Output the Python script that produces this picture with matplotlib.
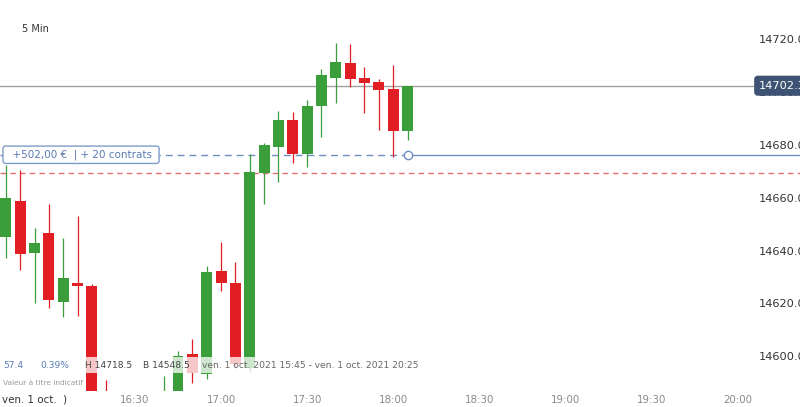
import matplotlib
matplotlib.use("Agg")
import matplotlib.pyplot as plt
from matplotlib.patches import Rectangle

# ---------------- data ----------------
times = ["15:45", "15:50", "15:55", "16:00", "16:05", "16:10", "16:15", "16:20",
         "16:25", "16:30", "16:35", "16:40", "16:45", "16:50", "16:55", "17:00",
         "17:05", "17:10", "17:15", "17:20", "17:25", "17:30", "17:35", "17:40",
         "17:45", "17:50", "17:55", "18:00", "18:05"]
opens = [14645.0, 14658.8, 14639.2, 14646.8, 14620.7, 14627.9, 14626.6, 14575.0,
         14560.0, 14553.0, 14564.0, 14573.0, 14582.0, 14600.9, 14593.2, 14632.3,
         14627.6, 14595.6, 14669.2, 14679.3, 14689.4, 14676.4, 14694.8, 14705.4,
         14710.9, 14705.1, 14703.6, 14701.1, 14685.3]
highs = [14672.4, 14670.5, 14648.7, 14657.6, 14644.9, 14653.1, 14627.3, 14591.0,
         14566.0, 14568.0, 14578.0, 14592.6, 14602.2, 14606.6, 14634.2, 14643.4,
         14635.6, 14676.5, 14680.5, 14692.8, 14692.5, 14696.9, 14708.5, 14718.5,
         14718.2, 14709.5, 14704.8, 14710.2, 14702.3]
lows = [14637.2, 14632.7, 14620.3, 14618.4, 14615.0, 14615.4, 14570.0, 14556.0,
        14548.5, 14550.0, 14559.0, 14568.0, 14578.0, 14589.8, 14591.3, 14624.8,
        14595.5, 14594.0, 14657.5, 14666.0, 14673.2, 14671.5, 14682.8, 14695.7,
        14702.0, 14692.1, 14685.6, 14675.5, 14681.6]
closes = [14659.8, 14638.6, 14642.8, 14621.3, 14629.8, 14626.6, 14575.0, 14560.0,
          14553.0, 14564.0, 14573.0, 14582.0, 14600.2, 14593.6, 14631.8, 14627.6,
          14597.0, 14669.6, 14679.9, 14689.4, 14676.5, 14694.7, 14706.4, 14711.2,
          14704.9, 14703.5, 14700.7, 14685.3, 14702.3]

current_price = 14702.3
position_price = 14676.2
red_level = 14669.3

price_ticks = [14600, 14620, 14640, 14660, 14680, 14700, 14720]
time_ticks = ["16:30", "17:00", "17:30", "18:00", "18:30", "19:00", "19:30", "20:00"]

position_label = "+502,00 €  | + 20 contrats"
stats = ["57.4", "0.39%", "H 14718.5", "B 14548.5",
         "ven. 1 oct. 2021 15:45 - ven. 1 oct. 2021 20:25"]
date_label = "ven. 1 oct.  )"
timeframe = "5 Min"
disclaimer = "Valeur à titre indicatif"


def to_min(s):
    h, m = s.split(":")
    return (int(h) - 16) * 60 + int(m)


xs = [to_min(t) for t in times]
xt = [to_min(t) for t in time_ticks]

GREEN = "#3a9f3a"
RED = "#e01e24"

# ---------------- figure ----------------
W, H = 800, 407
fig = plt.figure(figsize=(W / 100, H / 100), dpi=100)
ax_bottom = 391
ax = fig.add_axes([0, (H - ax_bottom) / H, 1, ax_bottom / H])
ax.set_xlim(-17.05, 261.8)
ax.set_ylim(14586.9, 14734.7)
for s in ax.spines.values():
    s.set_visible(False)

# candles
bw = 3.8
for x, o, h, l, c in zip(xs, opens, highs, lows, closes):
    col = GREEN if c >= o else RED
    ax.vlines(x, l, h, color=col, lw=0.9, zorder=3)
    ax.bar(x, abs(c - o) if abs(c - o) > 0.6 else 0.8, bottom=min(o, c),
           width=bw, color=col, zorder=4, linewidth=0)

# current price line
ax.axhline(current_price, xmin=0, xmax=0.941, color="#a0a0a0", lw=1.0, zorder=2)

# red dashed level
ax.axhline(red_level, color="#e87070", lw=1.0, ls=(0, (4, 3)), zorder=2)

# position line
x_pos = xs[-1]
ax.plot([ax.get_xlim()[0], x_pos], [position_price] * 2, color="#6f8fc2",
        lw=1.0, ls=(0, (5, 3.5)), zorder=2)
ax.plot([x_pos, ax.get_xlim()[1]], [position_price] * 2, color="#6f8fc2",
        lw=1.0, zorder=2)
ax.plot([x_pos], [position_price], marker="o", ms=6, mfc="white",
        mec="#6f8fc2", mew=1.0, zorder=6)

ax.text(0.008, position_price, "  " + position_label + " ", transform=ax.get_yaxis_transform(),
        ha="left", va="center", fontsize=7.5, color="#5a7ab0", zorder=7,
        bbox=dict(boxstyle="round,pad=0.33,rounding_size=0.25", fc="white",
                  ec="#7d9cc9", lw=1.0))

# axes ticks
ax.yaxis.tick_right()
ax.set_yticks(price_ticks)
ax.set_yticklabels([f"{v:.1f}" for v in price_ticks])
ax.tick_params(axis="y", length=0, pad=-29.5, labelsize=8.2, labelcolor="#333333")
ax.set_xticks(xt)
ax.set_xticklabels(time_ticks)
ax.tick_params(axis="x", length=0, pad=3, labelsize=7.4, labelcolor="#8a8a8a")

# current price tag
ax.text(0.949, current_price, "14702.3", transform=ax.get_yaxis_transform(),
        ha="left", va="center", fontsize=8.2, color="white", zorder=8,
        bbox=dict(boxstyle="round,pad=0.38,rounding_size=0.25", fc="#3e5373",
                  ec="#3e5373", lw=1))

# bottom overlay band
ax.add_patch(Rectangle((0, (ax_bottom - 373) / ax_bottom), 0.53, 16 / ax_bottom,
                       transform=ax.transAxes, fc="white", ec="none",
                       alpha=0.75, zorder=9))
stat_x = [3, 40, 85, 143, 202]
stat_c = ["#5a7bb5", "#5a7bb5", "#444444", "#444444", "#666666"]
for sx, txt, cc in zip(stat_x, stats, stat_c):
    ax.text(sx / W, (ax_bottom - 366) / ax_bottom, txt, transform=ax.transAxes,
            ha="left", va="center", fontsize=6.6, color=cc, zorder=10)
ax.text(3 / W, (ax_bottom - 383) / ax_bottom, disclaimer, transform=ax.transAxes,
        ha="left", va="center", fontsize=5.3, color="#9a9a9a", zorder=10)

# date label on the time axis
ax.text(2 / W, -(400 - ax_bottom) / ax_bottom, date_label, transform=ax.transAxes,
        ha="left", va="center", fontsize=7.4, color="#333333", clip_on=False)

# timeframe
ax.text(22 / W, (ax_bottom - 29) / ax_bottom, timeframe, transform=ax.transAxes,
        ha="left", va="center", fontsize=7, color="#333333")

fig.savefig("out.png", dpi=100, facecolor="white")
